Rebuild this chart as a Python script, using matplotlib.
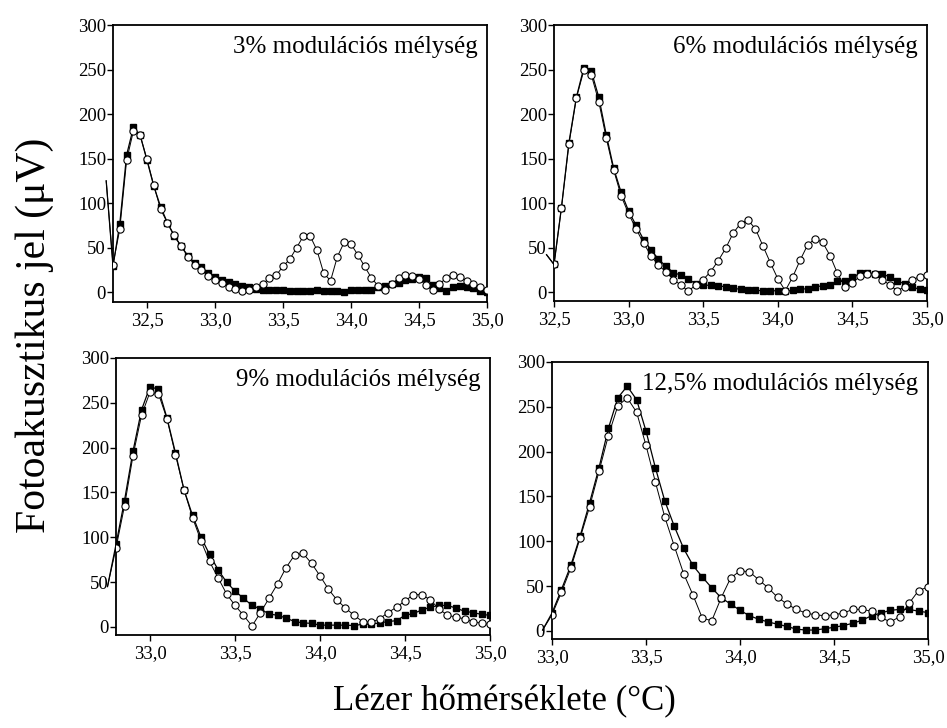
import matplotlib
matplotlib.use('Agg')
import matplotlib.pyplot as plt
import numpy as np
from matplotlib.ticker import FuncFormatter, MultipleLocator

# serif font like the original (Times)
plt.rcParams['font.family'] = ['Liberation Serif', 'DejaVu Serif']

# temperature grids (0,05 degree steps), first point lies just left of the axis
x1 = np.round(np.arange(32.20, 35.001, 0.05), 2)
x2 = np.round(np.arange(32.45, 35.001, 0.05), 2)
x3 = np.round(np.arange(32.75, 35.001, 0.05), 2)
x4 = np.round(np.arange(32.95, 35.001, 0.05), 2)

# 3% modulation depth
sq1 = [125, 29, 77, 154, 185, 176, 148, 119, 96, 78,
       63, 52, 41, 33, 28, 21, 17, 14, 11, 9,
       7.5, 6, 4, 3, 3, 2, 2, 1, 1.5, 1.5,
       1.5, 2, 1, 1, 1, 0.5, 2, 3, 3, 3,
       6, 7, 9, 10, 14, 15, 17.5, 16, 8, 4.5,
       1.5, 6, 7.5, 6, 4.5, 1, 0]
ci1 = [125, 31, 71, 148, 181, 176, 149, 120, 93, 78,
       64, 52, 40, 31, 25, 18, 14, 10, 6, 4,
       1, 3, 6, 9, 16, 19, 29, 37, 50, 63,
       63, 47, 21, 13, 40, 56, 54, 42, 29, 16,
       7, 2, 9, 16, 19, 18, 15, 8, 2, 9,
       16, 19, 17, 13, 9, 6, 2]

# 6% modulation depth
sq2 = [42, 31, 95, 168, 219, 252, 248, 219, 177, 139,
       112, 91, 75, 59, 47.5, 37, 29, 22, 19, 15,
       9, 8, 7.5, 7, 6, 4.5, 3, 2, 2, 1.5,
       1.5, 1.5, 1, 2, 3, 4, 6, 7, 8, 12,
       12, 16.5, 21, 22, 20.5, 20.5, 17, 13, 9, 6,
       3, 2]
ci2 = [42, 31, 95, 166, 218, 249, 244, 214, 173, 137,
       108, 88, 71, 55, 41, 30, 23, 14, 8, 1,
       8, 14, 23, 35, 49, 66, 77, 81, 71, 52,
       33, 15, 1.5, 17, 36, 53, 60, 56, 41, 21,
       6, 10, 18, 20, 20, 14, 8, 1.5, 6, 14,
       17, 19]

# 9% modulation depth
sq3 = [45, 92, 141, 196, 242, 268, 265, 233, 194, 153,
       124.5, 100, 81, 64, 50, 40, 32, 24, 20, 14.5,
       13, 10, 6, 4.5, 4, 2, 2, 2, 2, 1.5,
       3, 3, 4.5, 6, 7, 13, 15, 19, 22, 24,
       24, 21, 17.5, 16, 14, 13]
ci3 = [45, 88, 135, 191, 236, 262, 260, 232, 192, 153,
       122, 96, 73, 55, 37, 24, 13, 1, 16, 32,
       48, 66, 80, 82, 71, 57, 42, 30, 21, 13,
       6, 5, 9, 16, 22, 29, 36, 36, 30, 20,
       13, 11, 9, 6, 4, 3]

# 12,5% modulation depth
sq4 = [1, 20, 46, 73, 106, 143, 182, 226, 260, 273,
       258, 223, 182, 145, 117, 92, 73, 60, 48, 37,
       30, 23, 17, 13, 10, 7.5, 5, 2, 1, 1,
       2.5, 4, 6, 8.5, 12, 17, 20, 23, 24, 24,
       22, 20.5]
ci4 = [1, 18, 43, 70, 104, 138.5, 178, 218, 251, 260,
       244, 207, 166, 127, 95, 64, 40, 14, 11.5, 37,
       59, 67, 66, 57, 48, 37.5, 30, 24, 20, 18,
       17, 18, 20, 24, 24, 22, 15, 10, 16, 31,
       45, 49]

titles = ['3% modulációs mélység', '6% modulációs mélység',
          '9% modulációs mélység', '12,5% modulációs mélység']
xs = [x1, x2, x3, x4]
sqs = [sq1, sq2, sq3, sq4]
cis = [ci1, ci2, ci3, ci4]
xlims = [(32.25, 35.0), (32.5, 35.0), (32.8, 35.0), (33.0, 35.0)]
ylims = [(-11, 300), (-10, 300), (-9, 300), (-9, 300)]

# axes boxes in pixels: left, top, right, bottom
W, H = 947, 728
boxes = [(113, 25, 487, 302), (554, 25, 927, 301),
         (116, 358, 490, 635), (552, 362, 928, 639)]

fig = plt.figure(figsize=(9.47, 7.28), dpi=100)

comma = FuncFormatter(lambda v, p: ('%.1f' % v).replace('.', ','))

for i in range(4):
    l, t, r, b = boxes[i]
    ax = fig.add_axes([l / W, 1 - b / H, (r - l) / W, (b - t) / H])
    x = xs[i]

    # lines are not clipped (as in the original), markers are
    ax.plot(x, sqs[i], '-', color='black', lw=0.9, clip_on=False, zorder=2)
    ax.plot(x, cis[i], '-', color='black', lw=0.7, clip_on=False, zorder=3)
    ax.plot(x, sqs[i], 's', color='black', ms=5, zorder=4)
    ax.plot(x, cis[i], 'o', mfc='white', mec='black', mew=0.8, ms=5.2, zorder=5)

    ax.set_xlim(*xlims[i])
    ax.set_ylim(*ylims[i])
    ax.xaxis.set_major_locator(MultipleLocator(0.5))
    ax.yaxis.set_major_locator(MultipleLocator(50))
    ax.xaxis.set_major_formatter(comma)
    ax.tick_params(direction='out', length=4, width=1, labelsize=13.5, pad=1,
                   colors='black')
    ax.tick_params(axis='x', pad=3)
    for s in ax.spines.values():
        s.set_linewidth(1.3)

    ax.text(0.975, 0.96, titles[i], transform=ax.transAxes, ha='right',
            va='top', fontsize=18)

fig.text(0.037, 0.54, 'Fotoakusztikus jel (μV)', rotation=90,
         ha='center', va='center', fontsize=30)
fig.text(0.533, 0.036, 'Lézer hőmérséklete (°C)', ha='center',
         va='center', fontsize=25)

fig.savefig('out.png', dpi=100)
